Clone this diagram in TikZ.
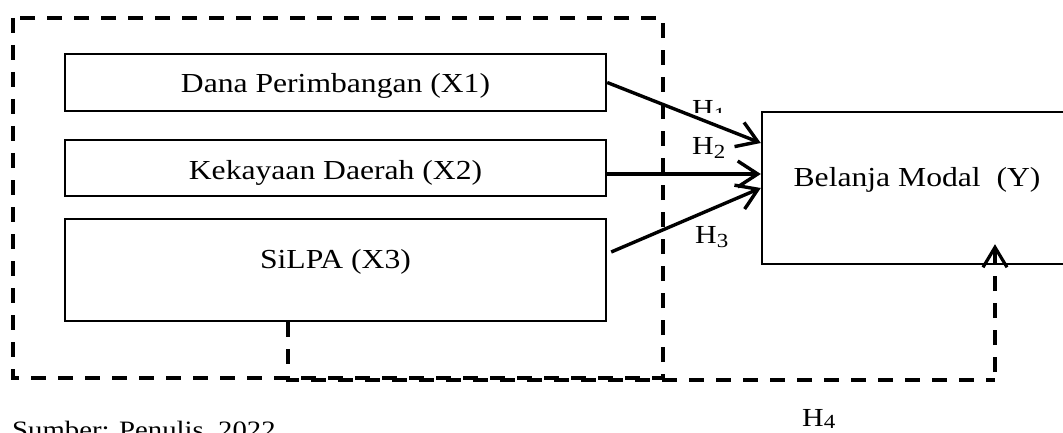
\documentclass[tikz,border=0pt]{standalone}
\usepackage{fontspec}
\setmainfont{Liberation Serif}[FakeStretch=1.15]
\usetikzlibrary{arrows.meta}
\newcommand{\Hsub}[1]{H\raisebox{-4pt}{\fontsize{20}{20}\selectfont #1}}
\newcommand{\Hsubb}[1]{H\raisebox{-2pt}{\fontsize{20}{20}\selectfont #1}}
\tikzset{
  varbox/.style={draw, line width=2.4pt, inner sep=0pt},
  lbl/.style={font=\fontsize{27.5}{33}\selectfont, inner sep=0pt, anchor=base},
  hlbl/.style={font=\fontsize{26}{30}\selectfont, inner sep=0pt, anchor=base west},
  dsh/.style={line width=3.2pt, dash pattern=on 15pt off 12pt},
  arr/.style={line width=3.4pt, -{Straight Barb[length=20pt,width=26pt,line width=3.4pt]}},
}
\begin{document}
\begin{tikzpicture}[x=1pt,y=-1pt]
\clip (0,0) rectangle (1063,433);
\fill[white] (0,0) rectangle (1063,433);

% outer dashed group
\draw[dsh] (13,18) rectangle (663,378);

% variable boxes
\node[varbox, minimum width=541pt, minimum height=57pt] (x1) at (335.5,82.5) {};
\node[varbox, minimum width=541pt, minimum height=56pt] (x2) at (335.5,168) {};
\node[varbox, minimum width=541pt, minimum height=102pt] (x3) at (335.5,270) {};
\node[varbox, minimum width=320pt, minimum height=152pt] (y) at (922,188) {};

\node[lbl] (t1) at (335.5,93) {Dana Perimbangan (X1)};
\node[lbl] (t2) at (335.5,179) {Kekayaan Daerah (X2)};
\node[lbl] (t3) at (335.5,268) {SiLPA (X3)};
\node[lbl] (ty) at (917,186) {Belanja Modal\ \ (Y)};

% arrows
\draw[arr] (x1.east) -- ([yshift=45pt]y.west);
\draw[arr] ([yshift=-6pt]x2.east) -- ([yshift=14pt]y.west);
\draw[arr] ([xshift=4pt,yshift=18pt]x3.east) -- ([yshift=0pt]y.west);

% H4 dashed connector
\coordinate (c1) at ([xshift=-47.5pt]x3.south);
\coordinate (c2) at (288,380);
\coordinate (c3) at (995,380);
\coordinate (c4) at ([xshift=73pt,yshift=21pt]y.south);
\draw[dsh] (c1) -- (c2) -- (c3) -- (c4 |- c3);
\draw[line width=3.2pt, dash pattern=on 15pt off 12pt, -{Straight Barb[length=20pt,width=24pt,line width=3.2pt]}] (c4 |- c3) ++(0,-8) -- (c4);

% labels
\begin{scope}
\clip (680,90) rectangle (735,113);
\node[hlbl] (h1) at (692,118) {\Hsub{1}};
\end{scope}
\node[hlbl] (h2) at (692,155) {\Hsub{2}};
\node[hlbl] (h3) at (695,243) {\Hsub{3}};
\node[hlbl] (h4) at (802,426) {\Hsubb{4}};

\node[font=\fontsize{25}{30}\selectfont, inner sep=0pt, anchor=base west] (src) at (12,438) {Sumber: Penulis, 2022};
\end{tikzpicture}
\end{document}
